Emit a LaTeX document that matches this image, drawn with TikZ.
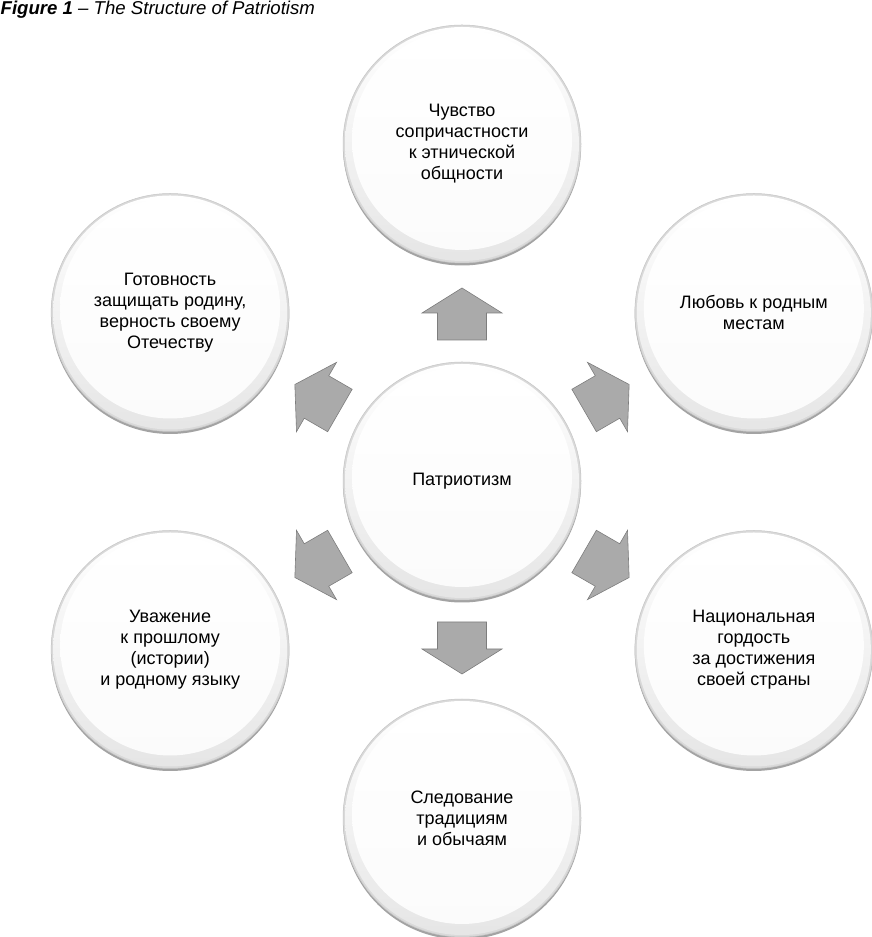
\documentclass[tikz,border=0pt]{standalone}
\usepackage{fontspec}
\setmainfont{Liberation Sans}
\usetikzlibrary{calc,backgrounds}
\definecolor{arrowfill}{RGB}{170,170,170}
\definecolor{arrowline}{RGB}{125,125,125}
\newcommand\bubbledeco[1]{%
  \fill[black!60, opacity=.6] ($(#1)+(0,-2.5)$) circle (119);
  \fill[gray!30] (#1) circle (119);
  \draw[gray!45, line width=.5pt] (#1) circle (119);
  \shade[top color=white, bottom color=gray!20] (#1) circle (117);
  \shade[top color=white, bottom color=gray!3] ($(#1)+(0,4)$) circle (110);
}
\newcommand\blockarr[2]{%
  \draw[blockarrow] let \p1=($(#2)-(#1)$), \n1={atan2(\y1,\x1)} in
    ($(#1)+(\n1:141)+(\n1-90:24.5)$) -- ($(#1)+(\n1:168)+(\n1-90:24.5)$) --
    ($(#1)+(\n1:168)+(\n1-90:40)$) -- ($(#1)+(\n1:193)$) --
    ($(#1)+(\n1:168)+(\n1+90:40)$) -- ($(#1)+(\n1:168)+(\n1+90:24.5)$) --
    ($(#1)+(\n1:141)+(\n1+90:24.5)$) -- cycle;
}
\begin{document}
\begin{tikzpicture}[x=1pt,y=1pt,
  bubble/.style={circle, minimum size=238pt, inner sep=0pt, align=center,
    font=\fontsize{18}{21}\selectfont, text=black},
  blockarrow/.style={fill=arrowfill, draw=arrowline, line width=0.6pt, line join=miter}]
\useasboundingbox (0,0) rectangle (871,937);

\node[anchor=base west, inner sep=0pt, font=\fontsize{18.6}{22}\selectfont\itshape] (title) at (0.5,922)
  {\textbf{Figure 1} – The Structure of Patriotism};

\node[bubble] (ctr) at (462,456) {Патриотизм};
\node[bubble] (t)  at ($(ctr)+(90:337)$)   {Чувство\\сопричастности\\к этнической\\общности};
\node[bubble] (ur) at ($(ctr)+(30:337)$)   {Любовь к родным\\местам};
\node[bubble] (lr) at ($(ctr)+(-30:337)$)  {Национальная\\гордость\\за достижения\\своей страны};
\node[bubble] (b)  at ($(ctr)+(-90:337)$)  {Следование\\традициям\\и обычаям};
\node[bubble] (ll) at ($(ctr)+(-150:337)$) {Уважение\\к прошлому\\(истории)\\и родному языку};
\node[bubble] (ul) at ($(ctr)+(150:337)$)  {Готовность\\защищать родину,\\верность своему\\Отечеству};

\begin{scope}[on background layer]
  \fill[white] (0,0) rectangle (871,937);
  \foreach \n in {ctr,t,ur,lr,b,ll,ul} {\bubbledeco{\n}}
  \blockarr{ctr}{t}
  \blockarr{ctr}{ur}
  \blockarr{ctr}{lr}
  \blockarr{ctr}{b}
  \blockarr{ctr}{ll}
  \blockarr{ctr}{ul}
\end{scope}
\end{tikzpicture}
\end{document}
